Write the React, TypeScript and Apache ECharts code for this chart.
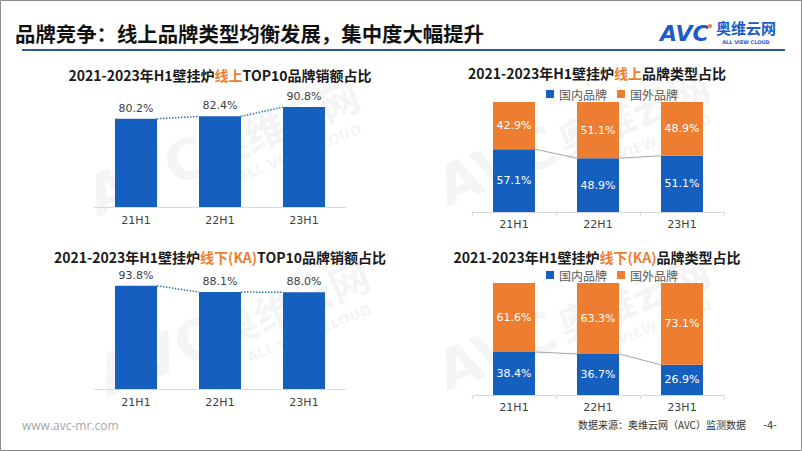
import React, { useEffect, useRef } from "react";
import * as echarts from "echarts";

const categories = ["21H1", "22H1", "23H1"];
const onlineTop10 = [80.2, 82.4, 90.8];
const offlineTop10 = [93.8, 88.1, 88.0];
const onlineDomestic = [57.1, 48.9, 51.1];
const onlineForeign = [42.9, 51.1, 48.9];
const offlineDomestic = [38.4, 36.7, 26.9];
const offlineForeign = [61.6, 63.3, 73.1];
const legendNames = ["国内品牌", "国外品牌"];

const BLUE = "#1560BF";
const ORANGE = "#ED7D31";
const FONT = "'Noto Sans CJK SC', 'Noto Sans', sans-serif";

const fmt = (p: any) => `${Number(p.value).toFixed(1)}%`;

function connector(gridIdx: number, values: number[], color: string, dotted: boolean) {
  const data = values.slice(0, -1).map((v, i) => [i, v, values[i + 1]]);
  return {
    type: "custom",
    xAxisIndex: gridIdx,
    yAxisIndex: gridIdx,
    silent: true,
    z: 5,
    data,
    encode: { x: 0, y: 1 },
    renderItem: (params: any, api: any) => {
      const i = api.value(0);
      const half = api.size([1, 0])[0] * 0.25;
      const a = api.coord([i, api.value(1)]);
      const b = api.coord([i + 1, api.value(2)]);
      return {
        type: "line",
        shape: { x1: a[0] + half, y1: a[1], x2: b[0] - half, y2: b[1] },
        style: { stroke: color, lineWidth: dotted ? 1.5 : 1, lineDash: dotted ? [1.5, 1.5] : null },
      };
    },
  };
}

function chartTitle(text: string, orange: string, rest: string, x: number, y: number) {
  return {
    type: "text",
    x,
    y,
    style: {
      text: `{b|${text}}{o|${orange}}{b|${rest}}`,
      align: "center",
      verticalAlign: "middle",
      rich: {
        b: { fontSize: 14, fontWeight: "bold", fill: "#1a1a1a", fontFamily: FONT },
        o: { fontSize: 14, fontWeight: "bold", fill: ORANGE, fontFamily: FONT },
      },
    },
  };
}

const WM = "rgba(190,190,190,0.16)";
function watermark(x: number, y: number) {
  return {
    type: "group",
    x,
    y,
    rotation: 0.38,
    silent: true,
    z: 0,
    children: [
      {
        type: "text",
        x: 0,
        y: 0,
        style: { text: "AVC", fontSize: 56, fontWeight: "bold", fill: WM, fontFamily: "'DejaVu Sans', sans-serif", verticalAlign: "bottom" },
      },
      {
        type: "text",
        x: 128,
        y: -8,
        style: { text: "奥维云网", fontSize: 40, fontWeight: "bold", fill: WM, fontFamily: FONT, verticalAlign: "bottom" },
      },
      {
        type: "text",
        x: 145,
        y: 14,
        style: { text: "ALL VIEW CLOUD", fontSize: 14, fontWeight: "bold", fill: WM, fontFamily: "'DejaVu Sans', sans-serif", verticalAlign: "bottom" },
      },
    ],
  };
}

export default function App() {
  const ref = useRef<HTMLDivElement>(null);
  useEffect(() => {
    if (!ref.current) return;
    const chart = echarts.init(ref.current, null, { renderer: "svg" });
    const grids = [
      { left: 94, top: 97, width: 252, height: 110 },
      { left: 472, top: 102, width: 252, height: 110 },
      { left: 94, top: 279, width: 252, height: 110 },
      { left: 472, top: 283, width: 252, height: 112 },
    ];
    const xAxes = grids.map((_, i) => ({
      type: "category",
      gridIndex: i,
      data: categories,
      axisLine: { lineStyle: { color: "#D9D9D9", width: 1 } },
      axisTick: i % 2 === 1 ? { show: true, length: 4, lineStyle: { color: "#D9D9D9" } } : { show: false },
      axisLabel: { color: "#404040", fontSize: 11, margin: i % 2 === 1 ? 7 : 8, fontFamily: "'DejaVu Sans', sans-serif" },
    }));
    const yAxes = grids.map((_, i) => ({
      type: "value",
      gridIndex: i,
      min: 0,
      max: 100,
      show: false,
    }));
    const topLabel = { show: true, position: "top", distance: 5, color: "#404040", fontSize: 11, formatter: fmt, fontFamily: "'DejaVu Sans', sans-serif" };
    const inLabel = { show: true, position: "inside", color: "#ffffff", fontSize: 11, formatter: fmt, fontFamily: "'DejaVu Sans', sans-serif" };
    const legendBase = {
      data: legendNames,
      left: 546,
      padding: 0,
      icon: "rect",
      itemWidth: 8,
      itemHeight: 8,
      itemGap: 10,
      textStyle: { fontSize: 12, color: "#595959", fontFamily: FONT },
      orient: "horizontal",
    };
    const option: any = {
      animation: false,
      backgroundColor: "#ffffff",
      grid: grids,
      xAxis: xAxes,
      yAxis: yAxes,
      legend: [
        { ...legendBase, top: 88 },
        { ...legendBase, top: 269 },
      ],
      series: [
        { type: "bar", xAxisIndex: 0, yAxisIndex: 0, data: onlineTop10, barWidth: "50%", itemStyle: { color: BLUE }, label: topLabel, z: 2 },
        connector(0, onlineTop10, "#2E75B6", true),
        { name: legendNames[0], type: "bar", stack: "a", xAxisIndex: 1, yAxisIndex: 1, data: onlineDomestic, barWidth: "50%", itemStyle: { color: BLUE }, label: inLabel },
        { name: legendNames[1], type: "bar", stack: "a", xAxisIndex: 1, yAxisIndex: 1, data: onlineForeign, barWidth: "50%", itemStyle: { color: ORANGE }, label: inLabel },
        connector(1, onlineDomestic, "#A6A6A6", false),
        { type: "bar", xAxisIndex: 2, yAxisIndex: 2, data: offlineTop10, barWidth: "50%", itemStyle: { color: BLUE }, label: topLabel, z: 2 },
        connector(2, offlineTop10, "#2E75B6", true),
        { name: legendNames[0], type: "bar", stack: "b", xAxisIndex: 3, yAxisIndex: 3, data: offlineDomestic, barWidth: "50%", itemStyle: { color: BLUE }, label: inLabel },
        { name: legendNames[1], type: "bar", stack: "b", xAxisIndex: 3, yAxisIndex: 3, data: offlineForeign, barWidth: "50%", itemStyle: { color: ORANGE }, label: inLabel },
        connector(3, offlineDomestic, "#A6A6A6", false),
      ],
      graphic: [
        watermark(100, 225),
        watermark(450, 215),
        watermark(110, 405),
        watermark(450, 400),
        {
          type: "rect",
          shape: { x: 0.5, y: 0.5, width: 801, height: 450 },
          style: { fill: "none", stroke: "#8C8C8C", lineWidth: 1 },
          silent: true,
        },
        {
          type: "text",
          x: 15,
          y: 33,
          style: { text: "品牌竞争：线上品牌类型均衡发展，集中度大幅提升", fontSize: 20.4, fontWeight: "bold", fill: "#111111", fontFamily: FONT, verticalAlign: "middle" },
        },
        {
          type: "line",
          shape: { x1: 22, y1: 50, x2: 785, y2: 50 },
          style: { stroke: "#2B5A8E", lineWidth: 2 },
        },
        {
          type: "text",
          x: 660,
          y: 33,
          style: { text: "AVC", fontSize: 22, fontWeight: "bold", fontStyle: "italic", fill: "#1D5BC9", fontFamily: "'DejaVu Sans', sans-serif", verticalAlign: "middle" },
        },
        { type: "circle", shape: { cx: 710, cy: 26, r: 2 }, style: { fill: ORANGE } },
        {
          type: "text",
          x: 716,
          y: 27,
          style: { text: "奥维云网", fontSize: 15, fontWeight: "bold", fill: "#1D5BC9", fontFamily: FONT, verticalAlign: "middle" },
        },
        {
          type: "text",
          x: 746,
          y: 42,
          style: { text: "ALL VIEW CLOUD", fontSize: 5, fontWeight: "bold", fill: "#1D5BC9", fontFamily: "'DejaVu Sans', sans-serif", align: "center", verticalAlign: "middle" },
        },
        chartTitle("2021-2023年H1壁挂炉", "线上", "TOP10品牌销额占比", 220, 75),
        chartTitle("2021-2023年H1壁挂炉", "线上", "品牌类型占比", 597, 73),
        chartTitle("2021-2023年H1壁挂炉", "线下(KA)", "TOP10品牌销额占比", 220, 257),
        chartTitle("2021-2023年H1壁挂炉", "线下(KA)", "品牌类型占比", 597, 257),
        {
          type: "text",
          x: 22,
          y: 425,
          style: { text: "www.avc-mr.com", fontSize: 12, fill: "#A6A6A6", fontFamily: "'Open Sans', sans-serif", verticalAlign: "middle" },
        },
        {
          type: "text",
          x: 746,
          y: 424,
          style: { text: "数据来源：奥维云网（AVC）监测数据", fontSize: 10, fill: "#333333", fontFamily: FONT, align: "right", verticalAlign: "middle" },
        },
        {
          type: "text",
          x: 770,
          y: 424,
          style: { text: "-4-", fontSize: 11, fill: "#333333", fontFamily: FONT, align: "center", verticalAlign: "middle" },
        },
      ],
    };
    chart.setOption(option);
    return () => chart.dispose();
  }, []);
  return (
    <div
      ref={ref}
      style={{ position: "fixed", left: 0, top: 0, width: 802, height: 451 }}
    />
  );
}
